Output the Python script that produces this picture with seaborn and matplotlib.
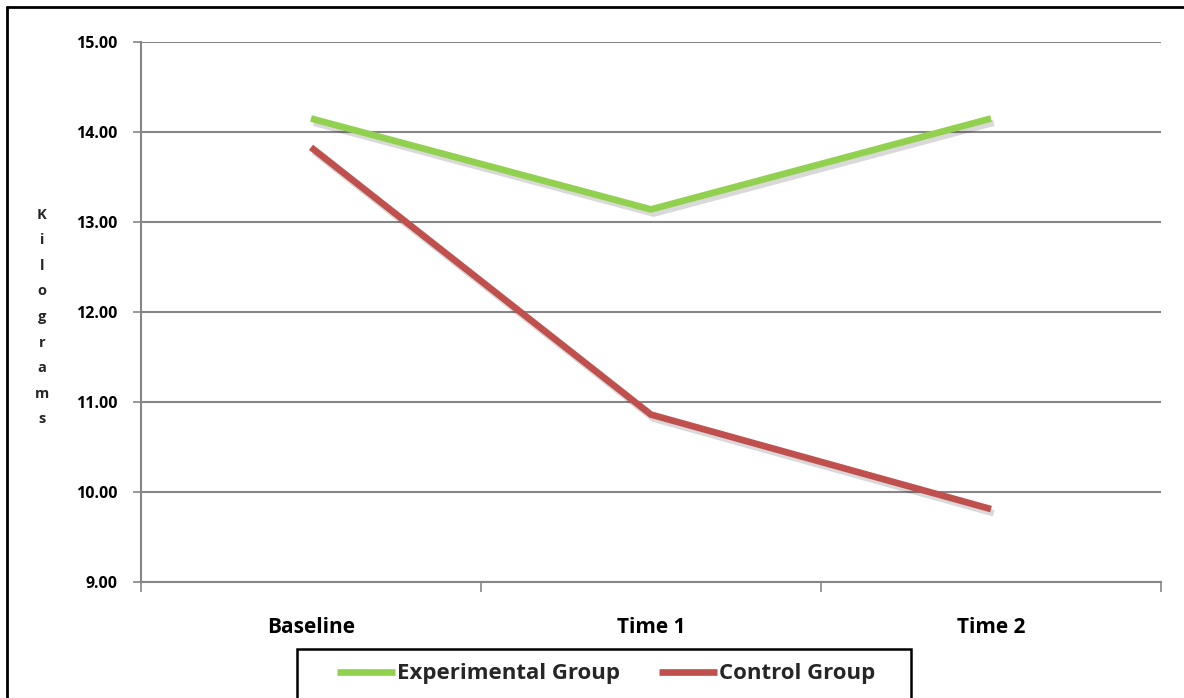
import matplotlib
matplotlib.use("Agg")
import matplotlib.pyplot as plt
import matplotlib.patheffects as pe
from matplotlib.lines import Line2D
from matplotlib.patches import Rectangle
import pandas as pd
import seaborn as sns

# Mean weight (kg) at each measurement point
timepoints = ["Baseline", "Time 1", "Time 2"]
experimental = [14.15, 13.14, 14.15]
control = [13.83, 10.86, 9.81]
group_names = ["Experimental Group", "Control Group"]
y_ticks = [9.0, 10.0, 11.0, 12.0, 13.0, 14.0, 15.0]

df = pd.DataFrame({
    "Time": timepoints * 2,
    "Kilograms": experimental + control,
    "Group": [group_names[0]] * 3 + [group_names[1]] * 3,
})

sns.set_theme(style="white")
FONT = ["Open Sans", "DejaVu Sans"]
plt.rcParams["font.family"] = FONT

W, H = 1184, 698
fig = plt.figure(figsize=(W / 100, H / 100), dpi=100)
ax = fig.add_axes([141 / W, 1 - 582 / H, 1020 / W, 540 / H])

palette = {group_names[0]: "#92D050", group_names[1]: "#C0504D"}
df["x"] = df["Time"].map({t: i for i, t in enumerate(timepoints)})
sns.lineplot(data=df, x="x", y="Kilograms", hue="Group", palette=palette,
             linewidth=4.8, ax=ax, legend=False, sort=False, zorder=3)
shadow = [pe.SimpleLineShadow(offset=(2, -3), shadow_color="black", alpha=0.15),
          pe.Normal()]
for ln in ax.get_lines():
    ln.set_path_effects(shadow)
    ln.set_solid_capstyle("butt")
    ln.set_solid_joinstyle("miter")

ax.set_xlim(-0.5, 2.5)
ax.set_ylim(9, 15)
ax.set_yticks(y_ticks)
ax.set_yticklabels([f"{v:.2f}" for v in y_ticks], fontsize=11.5,
                   fontweight="bold", color="black")
ax.set_xticks(range(3))
ax.set_xticklabels(timepoints, fontsize=15, fontweight="bold", color="black")
ax.set_xticks([-0.5, 0.5, 1.5, 2.5], minor=True)
ax.tick_params(axis="x", which="major", length=0, pad=25.5)
ax.tick_params(axis="x", which="minor", length=7, width=1.2, color="#868686",
               direction="out", bottom=True)
ax.tick_params(axis="y", which="major", length=6, width=1.2, color="#868686",
               direction="out", left=True, pad=11)
ax.grid(axis="y", color="#868686", linewidth=1.5, zorder=1)
ax.grid(axis="x", visible=False)
for side in ["top", "right"]:
    ax.spines[side].set_visible(False)
for side in ["left", "bottom"]:
    ax.spines[side].set_color("#868686")
    ax.spines[side].set_linewidth(1.5)
ax.set_xlabel("")
ax.set_ylabel("")

# Vertical stacked axis title
fig.text(42 / W, 1 - 317 / H, "\n".join("Kilograms"), ha="center",
         va="center", fontsize=10.5, fontweight="bold", linespacing=2.05)

# Legend box along the bottom edge
fig.add_artist(Rectangle((297 / W, -0.01), 614 / W, 0.01 + (H - 649) / H,
                         transform=fig.transFigure, fill=False,
                         edgecolor="black", linewidth=1.8))
handles = [Line2D([], [], color=palette[g], linewidth=4.8, solid_capstyle="butt")
           for g in group_names]
leg = fig.legend(handles, group_names, loc="center left",
                 bbox_to_anchor=(337 / W, 1 - 674 / H), ncol=2, frameon=False,
                 prop={"family": FONT, "weight": "bold", "size": 16},
                 handlelength=2.6, handletextpad=0.1, columnspacing=1.75,
                 borderpad=0, borderaxespad=0)

# Outer frame on the top and left edges
fig.add_artist(Line2D([7 / W, 7 / W], [0, 1 - 7 / H], color="black",
                      linewidth=2, transform=fig.transFigure))
fig.add_artist(Line2D([7 / W, 1], [1 - 7 / H, 1 - 7 / H], color="black",
                      linewidth=2, transform=fig.transFigure))

fig.savefig("out.png", dpi=100, facecolor="white")
